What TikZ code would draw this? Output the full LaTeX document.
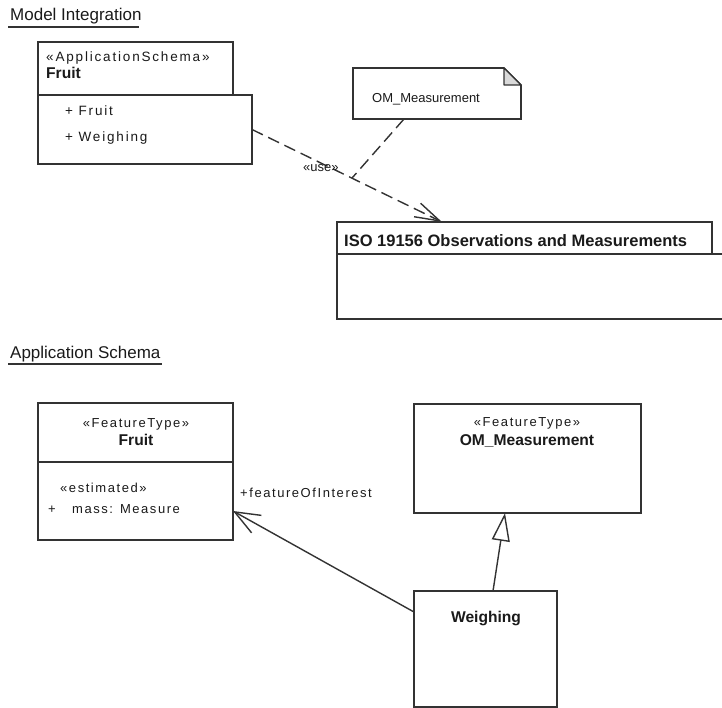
\documentclass[tikz,border=0pt]{standalone}
\usepackage{fontspec}
\setmainfont{Liberation Sans}
\newfontfamily\spacedfont[LetterSpace=12]{Liberation Sans}
\newfontfamily\widefont[LetterSpace=13.5]{Liberation Sans}
\usetikzlibrary{arrows.meta,calc}
\definecolor{umlline}{HTML}{333333}
\definecolor{umltext}{HTML}{1A1A1A}
\definecolor{foldgray}{HTML}{D9D9D9}
\tikzset{
  umlbox/.style={draw=umlline, line width=1.6pt, fill=white, inner sep=0pt, outer sep=0pt, anchor=north west},
  frame/.style={inner sep=0pt, outer sep=0pt, anchor=north west},
  txt/.style={inner sep=0pt, anchor=base west, text=umltext, font=\fontsize{13}{15}\selectfont},
  stxt/.style={txt, font=\spacedfont\fontsize{13}{15}\selectfont},
  wtxt/.style={txt, font=\widefont\fontsize{13.5}{16}\selectfont},
  btxt/.style={txt, font=\bfseries\fontsize{15.6}{18}\selectfont},
  heading/.style={txt, font=\fontsize{17}{20}\selectfont},
  headrule/.style={draw=umlline, line width=2pt},
  connector/.style={draw=umlline, line width=1.4pt},
  dep/.style={connector, dash pattern=on 12pt off 6pt},
}
\begin{document}
\begin{tikzpicture}[x=1pt,y=-1pt]
\useasboundingbox (0,0) rectangle (722,708);

% ---------- Model Integration ----------
\node[heading] (hmodel) at (10,21) {Model Integration};
\draw[headrule] (8,27) -- (139,27);

% package Fruit
\node[umlbox, minimum width=195, minimum height=53] (pkgtab) at (38,42) {};
\node[umlbox, minimum width=214, minimum height=69] (pkgbody) at (38,95) {};
\node[wtxt] (pkgstereo) at (46,62) {«ApplicationSchema»};
\node[btxt] (pkgname) at (46,79) {Fruit};
\node[wtxt] (pkgfruit) at (65,116) {+ Fruit};
\node[wtxt] (pkgweigh) at (65,142) {+ Weighing};

% note
\node[frame, minimum width=168, minimum height=51] (note) at (353,68) {};
\draw[line width=1.6pt, draw=umlline, fill=white]
  (note.north west) -- ([xshift=-17pt]note.north east) -- ([yshift=-17pt]note.north east)
  -- (note.south east) -- (note.south west) -- cycle;
\draw[line width=1.2pt, draw=umlline, fill=foldgray, line join=round]
  ([xshift=-17pt]note.north east) -- ([xshift=-17pt,yshift=-17pt]note.north east)
  -- ([yshift=-17pt]note.north east) -- cycle;
\node[txt] (notetext) at (372,103) {OM\_Measurement};

% package ISO 19156
\node[umlbox, minimum width=375, minimum height=32] (isotab) at (337,222) {};
\node[umlbox, minimum width=392, minimum height=65] (isobody) at (337,254) {};
\node[btxt, font=\bfseries\fontsize{16.5}{19}\selectfont] (isoname) at (344,247)
  {ISO 19156 Observations and Measurements};

% use dependency and note anchor
\coordinate (usetip) at ([xshift=105pt]isotab.north west);
\coordinate (usemid) at ($(pkgbody.east)!0.526!(usetip)$);
\draw[dep, -{Straight Barb[length=25pt,width=15pt]}] (pkgbody.east) -- (usetip);
\node[txt] (uselabel) at (303,172) {«use»};
\draw[dep] ([xshift=51pt]note.south west) -- (usemid);

% ---------- Application Schema ----------
\node[heading] (happ) at (10,358) {Application Schema};
\draw[headrule] (8,364) -- (162,364);

% class Fruit
\node[umlbox, minimum width=195, minimum height=137] (fruitcls) at (38,403) {};
\draw[line width=1.6pt, draw=umlline]
  ($(fruitcls.north west)+(0,59)$) -- ($(fruitcls.north east)+(0,59)$);
\node[stxt, anchor=base] (fruitstereo) at (136,427) {«FeatureType»};
\node[btxt, anchor=base] (fruitname) at (136,445) {Fruit};
\node[stxt] (fruitest) at (60,492) {«estimated»};
\node[stxt] (fruitplus) at (48,513) {+};
\node[stxt] (fruitmass) at (72,513) {mass: Measure};

% class OM_Measurement
\node[umlbox, minimum width=227, minimum height=109] (omcls) at (414,404) {};
\node[stxt, anchor=base] (omstereo) at (527,426) {«FeatureType»};
\node[btxt, anchor=base] (omname) at (527,445) {OM\_Measurement};

% class Weighing
\node[umlbox, minimum width=143, minimum height=116] (weighcls) at (414,591) {};
\node[btxt, anchor=base] (weighname) at (486,622) {Weighing};

% association Weighing -> Fruit
\draw[connector, -{Straight Barb[length=25pt,width=20pt]}]
  ([yshift=-21pt]weighcls.north west) -- ([yshift=-108pt]fruitcls.north east);
\node[stxt] (assoclabel) at (240,497) {+featureOfInterest};

% generalization Weighing -> OM_Measurement
\draw[connector, -{Triangle[open,length=28pt,width=18pt]}]
  ([xshift=79pt]weighcls.north west) -- ([xshift=91pt]omcls.south west);
\end{tikzpicture}
\end{document}
